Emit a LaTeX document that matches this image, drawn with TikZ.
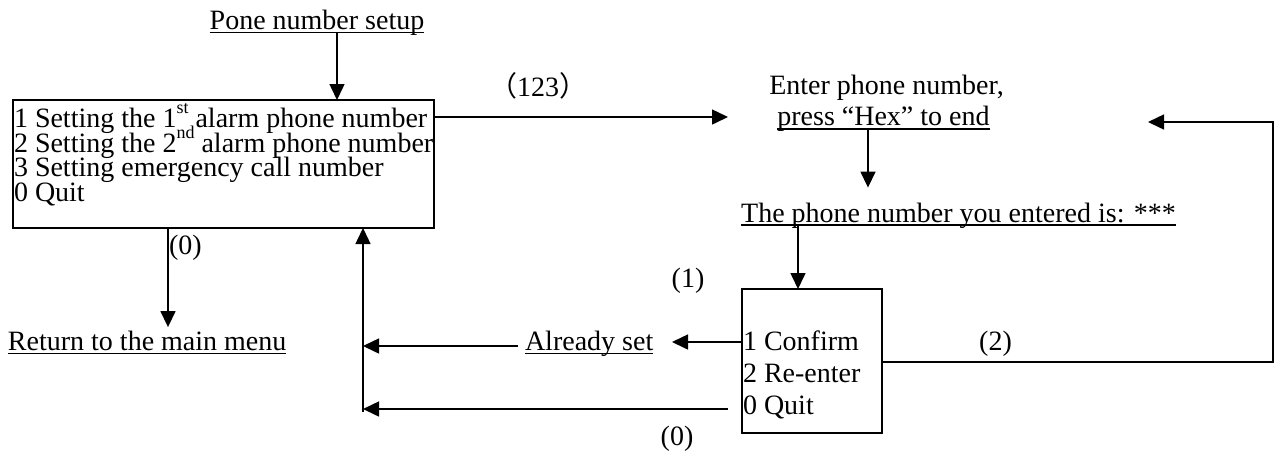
\documentclass[tikz,border=0pt]{standalone}
\usepackage{fontspec}
\setmainfont{Liberation Serif}
\newfontfamily\cjk{Noto Sans CJK SC}
\usetikzlibrary{arrows.meta}
\newcommand\myss[1]{\raisebox{7pt}{\fontsize{9}{9}\selectfont #1}}
% one line of a stacked list: fixed pitch, ink may overhang
\newcommand\myrow[3]{\hbox{\vrule height #1 depth #2 width 0pt\smash{#3}}}
\begin{document}
\begin{tikzpicture}[x=0.5pt,y=-0.5pt,
  every node/.style={inner sep=0pt, outer sep=0pt, font=\fontsize{14}{16}\selectfont},
  txt/.style={anchor=base west},
  ctxt/.style={anchor=base},
  lbl/.style={anchor=center},
  box/.style={draw, line width=0.7pt, rectangle},
  conn/.style={line width=0.75pt},
  arr/.style={conn, -{Triangle[length=8pt,width=7.5pt]}},
  ul/.style={line width=0.7pt}]
\useasboundingbox (0,0) rectangle (1276,452);

% title
\node[ctxt] (title) at (317,29.3) {Pone number setup};
\draw[ul] ([yshift=-1.5pt]title.base west) -- ([yshift=-1.5pt]title.base east);

% main menu box
\node[box, minimum width=210.5pt, minimum height=64pt] (menu) at (223.5,164) {};
\node[txt] (mtext) at (14,127.3)
  {\vtop{\offinterlineskip
   \myrow{8.6pt}{3.75pt}{1 Setting the 1\myss{st} alarm phone number}
   \myrow{8.6pt}{3.75pt}{2 Setting the 2\myss{nd} alarm phone number}
   \myrow{8.6pt}{3.75pt}{3 Setting emergency call number}
   \myrow{8.6pt}{3.75pt}{0 Quit}}};

\coordinate (tx) at (337,0);
\draw[arr] ([yshift=-1.5pt]title.base -| tx) -- (menu.north -| tx);

% (123) arrow
\coordinate (a1) at (728,117);
\draw[arr] (menu.east |- a1) -- (a1);
\node[lbl] (l123) at (538,86) {{\cjk （}123{\cjk ）}};

% enter phone number
\node[ctxt] (e1) at (886.5,94) {Enter phone number,};
\node[ctxt] (e2) at (883.5,125) {press “Hex” to end};
\draw[ul] ([yshift=-2pt]e2.base west) -- ([yshift=-2pt]e2.base east);

% phone number entered
\node[ctxt] (ph) at (958.5,222) {The phone number you entered is: ***};
\draw[ul] ([yshift=-1.5pt]ph.base west) -- ([yshift=-1.5pt]ph.base east);

\coordinate (x2) at (868,0);
\draw[arr] ([yshift=-2pt]e2.base -| x2) -- ([yshift=7.5pt]ph.north -| x2);

% confirm box
\node[box, minimum width=70pt, minimum height=72pt] (conf) at (812,361) {};
\node[txt] (ctext) at (743,350.5)
  {\vtop{\offinterlineskip
   \myrow{11pt}{4.9pt}{1 Confirm}
   \myrow{11pt}{4.9pt}{2 Re-enter}
   \myrow{11pt}{4.9pt}{0 Quit}}};

\coordinate (x3) at (798,0);
\draw[arr] ([yshift=-1.5pt]ph.base -| x3) -- (conf.north -| x3);

% (1) already set
\node[lbl] (l1) at (688,281) {(1)};
\coordinate (a3) at (672,342);
\draw[arr] (conf.west |- a3) -- (a3);
\node[txt] (al) at (525,350.5) {Already set};
\draw[ul] ([yshift=-1.5pt]al.base west) -- ([yshift=-1.5pt]al.base east);

\coordinate (vb) at (363,412);
\coordinate (a4) at (0,346);
\draw[arr] ([xshift=-3.5pt]al.west |- a4) -- (a4 -| vb);
\draw[arr] (vb) -- (menu.south -| vb);

% (0) bottom
\coordinate (b0) at (0,409);
\draw[arr] ([xshift=-7pt]conf.west |- b0) -- (b0 -| vb);
\node[lbl] (l0b) at (677,439) {(0)};

% (0) return to main menu
\node[anchor=west] (l0a) at (169,247.5) {(0)};
\node[txt] (ret) at (8,350.5) {Return to the main menu};
\draw[ul] ([yshift=-1.5pt]ret.base west) -- ([yshift=-1.5pt]ret.base east);
\coordinate (x4) at (168,0);
\draw[arr] (menu.south -| x4) -- ([yshift=2pt]ret.north -| x4);

% (2) loop back
\coordinate (r1) at (1273,362);
\coordinate (r2) at (1148,122);
\draw[arr] (conf.east |- r1) -- (r1) -- (r1 |- r2) -- (r2);
\node[lbl] (l2) at (995.5,343.5) {(2)};
\end{tikzpicture}
\end{document}
